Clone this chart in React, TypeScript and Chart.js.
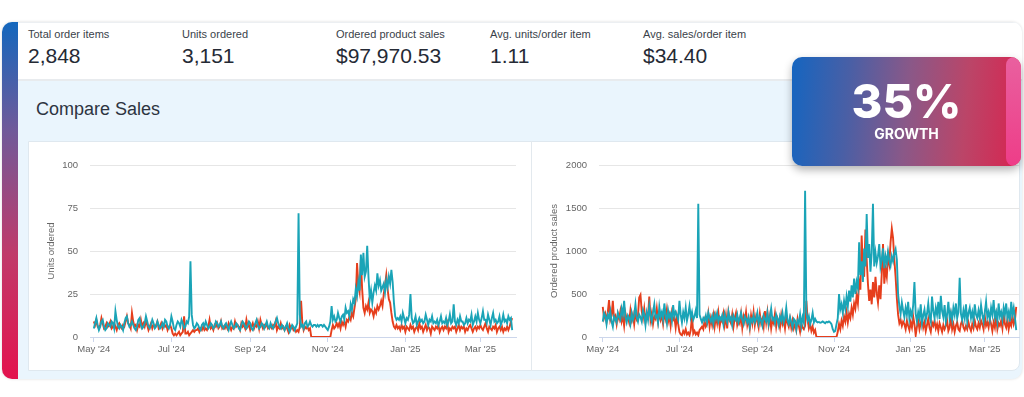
import { useEffect, useRef } from "react";
import { Chart, registerables } from "chart.js";

Chart.register(...registerables);

// ---- data (daily, day 0 = 1 May 2024) ----
const tickDays = [0, 61, 123, 184, 245, 304];
const tickLabels = ["May '24", "Jul '24", "Sep '24", "Nov '24", "Jan '25", "Mar '25"];

const stats = [
  { label: "Total order items", value: "2,848" },
  { label: "Units ordered", value: "3,151" },
  { label: "Ordered product sales", value: "$97,970.53" },
  { label: "Avg. units/order item", value: "1.11" },
  { label: "Avg. sales/order item", value: "$34.40" },
];

const unitsTeal = [
  5, 8, 11, 7, 4, 6, 9, 10, 6, 4,
  5, 8, 7, 6, 9, 8, 5, 15, 10, 6,
  5, 7, 6, 4, 8, 11, 12, 8, 6, 7,
  9, 7, 5, 4, 6, 10, 11, 7, 5, 6,
  8, 12, 9, 6, 5, 7, 10, 8, 5, 6,
  9, 7, 5, 6, 8, 6, 10, 9, 6, 5,
  7, 12, 9, 5, 4, 7, 9, 8, 6, 10,
  8, 5, 6, 9, 8, 12, 44, 13, 7, 5,
  6, 8, 7, 5, 4, 7, 8, 6, 9, 7,
  5, 6, 8, 7, 5, 6, 9, 8, 6, 7,
  9, 6, 5, 7, 8, 6, 4, 7, 9, 7,
  5, 6, 8, 7, 5, 4, 7, 9, 8, 6,
  5, 7, 9, 8, 5, 4, 6, 8, 10, 7,
  5, 6, 8, 7, 5, 7, 9, 6, 5, 8,
  6, 5, 7, 9, 11, 8, 6, 5, 7, 6,
  4, 6, 8, 5, 3, 5, 7, 6, 4, 6,
  8, 72, 13, 6, 7, 5, 8, 9, 6, 7,
  9, 7, 6, 7, 7, 6, 7, 6, 7, 7,
  6, 7, 6, 5, 4, 6, 9, 18, 10, 12,
  9, 10, 14, 11, 9, 12, 13, 10, 17, 14,
  15, 12, 19, 16, 22, 20, 28, 24, 32, 27,
  48, 36, 49, 35, 38, 53, 35, 22, 27, 20,
  26, 30, 27, 37, 30, 33, 27, 29, 31, 26,
  33, 29, 35, 31, 39, 32, 20, 12, 10, 11,
  10, 12, 9, 14, 11, 8, 11, 10, 13, 25,
  11, 8, 9, 12, 7, 9, 11, 9, 10, 8,
  9, 13, 10, 7, 10, 9, 12, 8, 9, 8,
  10, 7, 9, 12, 8, 9, 8, 11, 7, 9,
  13, 8, 9, 19, 9, 7, 10, 8, 12, 9,
  9, 7, 8, 11, 8, 10, 9, 13, 7, 9,
  12, 9, 14, 10, 8, 11, 15, 10, 10, 8,
  13, 10, 7, 11, 14, 9, 10, 8, 9, 12,
  7, 9, 13, 9, 10, 8, 12, 10, 11, 4,
];

const unitsRed = [
  9, 7, 10, 6, 5, 7, 11, 8, 5, 6,
  8, 6, 7, 9, 5, 6, 8, 6, 4, 7,
  8, 6, 5, 7, 6, 9, 12, 8, 7, 5,
  14, 9, 6, 7, 4, 7, 6, 10, 6, 8,
  6, 9, 7, 4, 6, 8, 5, 7, 6, 7,
  9, 5, 6, 8, 5, 7, 6, 7, 4, 6,
  7, 5, 2, 1, 2, 1, 2, 3, 1, 2,
  3, 12, 2, 2, 3, 1, 2, 3, 4, 3,
  4, 4, 5, 3, 5, 4, 6, 4, 5, 4,
  6, 10, 5, 6, 4, 7, 6, 8, 5, 6,
  9, 5, 6, 5, 7, 5, 8, 6, 4, 6,
  5, 9, 6, 7, 6, 4, 8, 6, 7, 5,
  10, 6, 7, 4, 6, 8, 5, 7, 6, 9,
  5, 10, 7, 5, 7, 6, 8, 5, 6, 6,
  5, 7, 6, 9, 4, 6, 5, 8, 5, 6,
  4, 6, 5, 3, 7, 5, 6, 4, 5, 3,
  4, 3, 6, 21, 8, 4, 6, 5, 6, 4,
  5, 0, 0, 0, 0, 0, 0, 0, 0, 0,
  0, 0, 0, 0, 0, 0, 0, 4, 7, 5,
  6, 8, 6, 8, 5, 9, 7, 9, 6, 10,
  9, 12, 10, 14, 12, 17, 22, 43, 30, 26,
  45, 28, 17, 14, 18, 16, 20, 14, 16, 15,
  12, 16, 14, 18, 16, 18, 21, 18, 25, 30,
  36, 28, 22, 20, 14, 9, 6, 5, 7, 5,
  6, 4, 7, 5, 6, 3, 6, 5, 4, 7,
  5, 6, 3, 5, 6, 4, 8, 5, 6, 3,
  5, 7, 4, 6, 5, 2, 6, 5, 4, 6,
  5, 7, 3, 5, 6, 4, 6, 5, 8, 3,
  5, 4, 6, 5, 6, 3, 5, 7, 4, 6,
  5, 6, 3, 5, 4, 6, 7, 5, 3, 5,
  6, 4, 6, 5, 7, 5, 4, 6, 8, 5,
  3, 6, 5, 4, 6, 5, 7, 3, 5, 6,
  4, 6, 3, 5, 4, 6, 4, 6, 9, 11,
];

const salesTeal = [
  180, 280, 250, 150, 260, 220, 300, 180, 120, 240,
  210, 170, 280, 230, 200, 330, 260, 420, 230, 170,
  250, 220, 150, 280, 200, 250, 380, 230, 180, 260,
  230, 180, 310, 260, 140, 280, 200, 360, 250, 180,
  290, 380, 230, 250, 170, 350, 240, 290, 200, 390,
  260, 160, 310, 230, 270, 190, 370, 240, 290, 250,
  200, 420, 260, 170, 290, 220, 340, 190, 260, 360,
  230, 290, 200, 240, 310, 220, 1550, 260, 210, 170,
  220, 190, 250, 170, 280, 220, 180, 240, 150, 260,
  210, 280, 180, 230, 200, 250, 150, 270, 210, 170,
  290, 200, 230, 140, 250, 210, 190, 260, 170, 220,
  280, 200, 150, 240, 210, 170, 230, 120, 210, 180,
  250, 170, 210, 280, 160, 230, 190, 130, 250, 210,
  180, 280, 150, 230, 330, 200, 220, 160, 260, 210,
  140, 240, 190, 280, 170, 220, 340, 190, 150, 230,
  170, 110, 210, 190, 90, 190, 160, 260, 130, 230,
  170, 1700, 290, 190, 240, 150, 200, 280, 170, 210,
  180, 170, 175, 165, 170, 180, 170, 160, 175, 170,
  180, 170, 150, 90, 60, 70, 150, 220, 500, 320,
  380, 280, 420, 330, 470, 360, 540, 410, 600, 460,
  680, 500, 640, 570, 1100, 720, 880, 640, 1030, 820,
  1430, 920, 1080, 760, 980, 1550, 820, 980, 860, 940,
  1080, 820, 900, 1030, 800, 940, 860, 990, 890, 830,
  940, 880, 970, 1020, 900, 500, 360, 270, 400, 310,
  230, 340, 260, 410, 210, 300, 240, 370, 640, 270,
  180, 290, 220, 380, 160, 250, 320, 200, 270, 390,
  240, 180, 470, 300, 220, 340, 260, 410, 210, 480,
  300, 230, 370, 180, 260, 410, 220, 290, 200, 340,
  260, 390, 220, 290, 690, 270, 200, 310, 220, 380,
  180, 280, 340, 220, 290, 190, 380, 260, 220, 310,
  220, 370, 260, 180, 290, 410, 230, 290, 200, 340,
  260, 430, 230, 290, 180, 390, 240, 290, 200, 340,
  260, 390, 220, 290, 180, 410, 260, 340, 220, 80,
];

const salesRed = [
  350, 220, 270, 180, 290, 430, 200, 250, 420, 200,
  240, 150, 270, 210, 300, 180, 240, 130, 280, 210,
  230, 170, 310, 200, 260, 150, 280, 210, 250, 460,
  490, 300, 220, 330, 180, 270, 230, 470, 200, 280,
  150, 240, 210, 330, 180, 280, 200, 250, 150, 270,
  210, 320, 180, 250, 130, 280, 200, 230, 110, 240,
  150, 60, 30, 20, 70, 40, 90, 30, 50, 20,
  80, 250, 40, 70, 30, 50, 20, 80, 100, 120,
  90, 190, 120, 150, 270, 120, 220, 140, 250, 120,
  240, 160, 280, 120, 210, 180, 270, 140, 250, 100,
  290, 200, 160, 260, 120, 220, 280, 140, 200, 160,
  270, 110, 240, 180, 290, 140, 210, 100, 250, 160,
  290, 140, 240, 180, 110, 270, 160, 210, 120, 300,
  170, 290, 140, 240, 100, 200, 160, 270, 120, 220,
  180, 110, 250, 150, 200, 100, 230, 170, 120, 210,
  110, 190, 100, 150, 80, 210, 130, 60, 160, 110,
  90, 130, 420, 210, 100, 150, 70, 120, 50, 80,
  0, 0, 0, 0, 0, 0, 0, 0, 0, 0,
  0, 0, 0, 0, 0, 0, 0, 60, 150, 90,
  190, 130, 240, 180, 290, 170, 270, 220, 340, 260,
  390, 330, 480, 390, 640, 550, 1180, 800, 700, 1250,
  900, 620, 420, 550, 380, 640, 460, 700, 510, 400,
  600, 440, 740, 1080, 620, 790, 700, 940, 850, 1100,
  1260, 1150, 900, 700, 450, 260, 160, 200, 130, 180,
  150, 90, 190, 130, 80, 170, 110, 240, 150, 20,
  120, 190, 90, 160, 220, 110, 170, 70, 140, 210,
  110, 60, 170, 130, 190, 100, 150, 70, 160, 110,
  60, 140, 90, 130, 190, 70, 110, 240, 90, 150,
  60, 130, 170, 90, 70, 150, 190, 110, 80, 130,
  90, 170, 110, 70, 150, 100, 190, 120, 90, 160,
  110, 190, 150, 90, 240, 130, 170, 110, 210, 150,
  70, 170, 110, 240, 90, 160, 130, 190, 100, 270,
  150, 110, 210, 90, 170, 130, 250, 150, 200, 350,
];

const TEAL = "#1aa4b7";
const RED = "#e63e1c";
const TICK_FONT = { family: "'Liberation Sans', Arial, sans-serif", size: 9.5 };

function makeChart(
  canvas: HTMLCanvasElement,
  teal: number[],
  red: number[],
  yMax: number,
  yStep: number,
  yTitle: string,
  axisW: number,
  titlePad: number,
  padRight: number
) {
  return new Chart(canvas, {
    type: "line",
    data: {
      datasets: [
        {
          data: teal.map((v, i) => ({ x: i, y: v })),
          borderColor: TEAL,
          borderWidth: 1.9,
          pointRadius: 0,
          tension: 0,
        },
        {
          data: red.map((v, i) => ({ x: i, y: v })),
          borderColor: RED,
          borderWidth: 1.9,
          pointRadius: 0,
          tension: 0,
        },
      ],
    },
    options: {
      animation: false,
      responsive: false,
      devicePixelRatio: 1,
      events: [],
      layout: { padding: { left: 0, right: padRight, top: 24, bottom: 0 } },
      plugins: { legend: { display: false }, tooltip: { enabled: false } },
      scales: {
        x: {
          type: "linear",
          min: -3,
          max: 332,
          afterBuildTicks: (ax: any) => {
            ax.ticks = tickDays.map((v) => ({ value: v }));
          },
          afterFit: (ax: any) => {
            ax.height = 34;
          },
          ticks: {
            autoSkip: false,
            maxRotation: 0,
            padding: 2,
            color: "#666666",
            font: TICK_FONT,
            callback: (v: any) => {
              const i = tickDays.indexOf(Number(v));
              return i >= 0 ? tickLabels[i] : "";
            },
          },
          grid: { drawOnChartArea: false, drawTicks: true, tickLength: 5, color: "#ccd6eb" },
          border: { color: "#ccd6eb", width: 1 },
        },
        y: {
          min: 0,
          max: yMax,
          afterFit: (ax: any) => {
            ax.width = axisW;
          },
          ticks: {
            stepSize: yStep,
            padding: 12,
            color: "#666666",
            font: TICK_FONT,
            callback: (v: any) => String(v),
          },
          grid: { color: "#e6e6e6", drawTicks: false },
          border: { display: false },
          title: {
            display: true,
            text: yTitle,
            color: "#666666",
            font: { family: "'Liberation Sans', Arial, sans-serif", size: 9.5 },
            padding: { top: titlePad, bottom: 0 },
          },
        },
      },
    },
  } as any);
}

export default function App() {
  const leftRef = useRef<HTMLCanvasElement>(null);
  const rightRef = useRef<HTMLCanvasElement>(null);

  useEffect(() => {
    const c1 = makeChart(leftRef.current!, unitsTeal, unitsRed, 100, 25, "Units ordered", 62, 18, 15);
    const c2 = makeChart(rightRef.current!, salesTeal, salesRed, 2000, 500, "Ordered product sales", 67, 17, 0);
    return () => {
      c1.destroy();
      c2.destroy();
    };
  }, []);

  const sans = "'Liberation Sans', Arial, Helvetica, sans-serif";
  const statX = [28, 182, 336, 490, 643];

  return (
    <div
      style={{
        position: "absolute",
        left: 0,
        top: 0,
        width: 1024,
        height: 397,
        background: "#ffffff",
        overflow: "hidden",
        fontFamily: sans,
      }}
    >
      {/* outer card */}
      <div
        style={{
          position: "absolute",
          left: 2,
          top: 22,
          width: 1020,
          height: 357,
          borderRadius: 10,
          background: "#eaf5fd",
          overflow: "hidden",
          boxShadow: "0 0 3px rgba(0,0,0,0.15)",
        }}
      >
        <div
          style={{
            position: "absolute",
            left: 0,
            top: 0,
            width: 16,
            height: "100%",
            background: "linear-gradient(180deg, #1467bd 0%, #6f5a9a 30%, #c03a6a 65%, #e3134e 100%)",
          }}
        />
        <div
          style={{
            position: "absolute",
            left: 16,
            top: 0,
            right: 0,
            height: 56,
            background: "#ffffff",
            borderTop: "1px solid #eceff2",
            borderBottom: "2px solid #e8ebee",
          }}
        />
        {/* chart area white */}
        <div
          style={{
            position: "absolute",
            left: 26,
            top: 119,
            width: 992,
            height: 230,
            background: "#ffffff",
            border: "1px solid #dfe8ef",
            borderRadius: "0 0 8px 0",
            boxSizing: "border-box",
          }}
        />
        <div style={{ position: "absolute", left: 529, top: 119, width: 1, height: 230, background: "#e3e9ee" }} />
      </div>

      {stats.map((s, i) => (
        <div key={s.label}>
          <div
            style={{
              position: "absolute",
              left: statX[i],
              top: 28.7,
              fontSize: 11,
              lineHeight: "11px",
              color: "#3a3f4a",
              whiteSpace: "nowrap",
            }}
          >
            {s.label}
          </div>
          <div
            style={{
              position: "absolute",
              left: statX[i],
              top: 45.2,
              fontSize: 21,
              lineHeight: "21px",
              color: "#252a35",
              whiteSpace: "nowrap",
            }}
          >
            {s.value}
          </div>
        </div>
      ))}

      <div
        style={{
          position: "absolute",
          left: 36,
          top: 99.8,
          fontSize: 18,
          lineHeight: "18px",
          color: "#2d3441",
          whiteSpace: "nowrap",
        }}
      >
        Compare Sales
      </div>

      <canvas
        ref={leftRef}
        width={503}
        height={230}
        style={{ position: "absolute", left: 28, top: 141, width: 503, height: 230 }}
      />
      <canvas
        ref={rightRef}
        width={488}
        height={230}
        style={{ position: "absolute", left: 532, top: 141, width: 488, height: 230 }}
      />

      {/* growth badge */}
      <div
        style={{
          position: "absolute",
          left: 792,
          top: 57,
          width: 229,
          height: 109,
          borderRadius: 10,
          overflow: "hidden",
          background:
            "linear-gradient(95deg, #1565c0 0%, #4a5fa5 25%, #8a5888 50%, #bb4568 75%, #d8234f 100%)",
          boxShadow: "0 4px 8px rgba(0,0,0,0.3)",
        }}
      >
        <div
          style={{
            position: "absolute",
            left: 214,
            top: 0,
            width: 20,
            height: "100%",
            borderRadius: "8px 0 0 8px",
            background: "linear-gradient(180deg, #e9609f 0%, #ee3d88 100%)",
          }}
        />
        <div
          style={{
            position: "absolute",
            left: 0,
            width: "100%",
            top: 19.6,
            textAlign: "center",
            fontFamily: "Inter, 'Open Sans', sans-serif",
            fontWeight: 800,
            fontSize: 47,
            lineHeight: "47px",
            color: "#ffffff",
          }}
        >
          35%
        </div>
        <div
          style={{
            position: "absolute",
            left: 0,
            width: "100%",
            top: 70,
            textAlign: "center",
            fontFamily: "Inter, 'Open Sans', sans-serif",
            fontWeight: 700,
            fontSize: 14,
            lineHeight: "14px",
            color: "#ffffff",
          }}
        >
          GROWTH
        </div>
      </div>
    </div>
  );
}
